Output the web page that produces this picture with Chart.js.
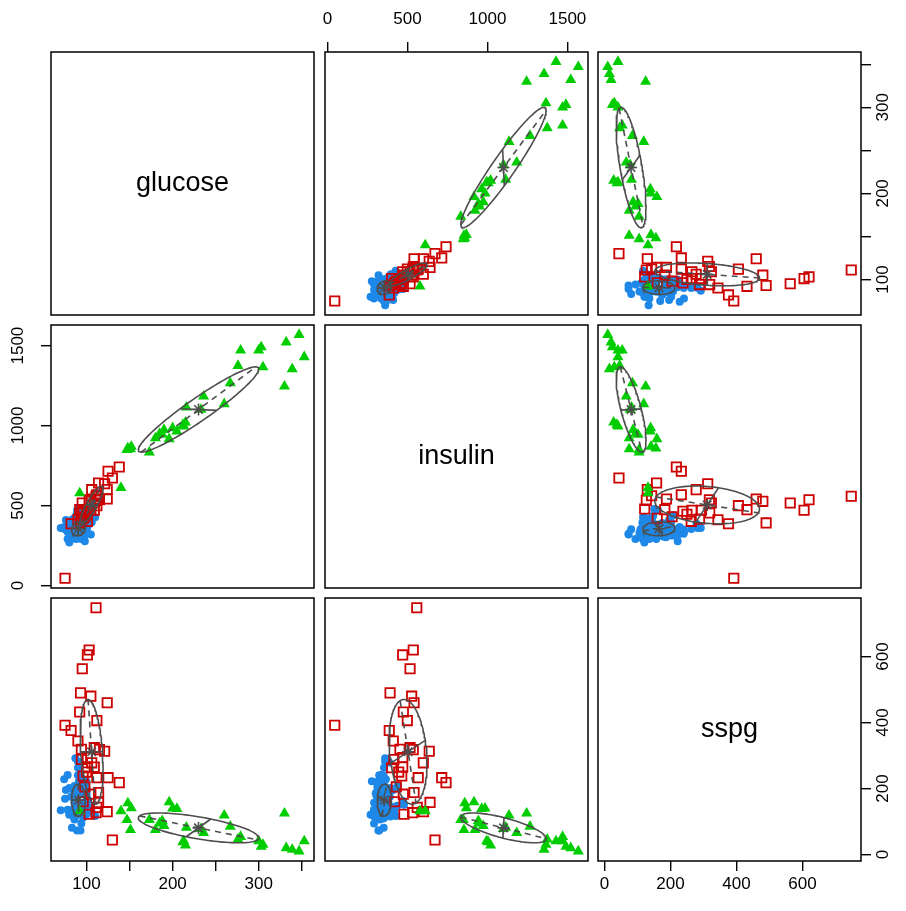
<!DOCTYPE html>
<html>
<head>
<meta charset="utf-8">
<title>diabetes scatterplot matrix</title>
<script src="https://cdn.jsdelivr.net/npm/chart.js@4.4.1/dist/chart.umd.min.js"></script>
<style>
  html, body { margin: 0; padding: 0; background: #fff; overflow: hidden; }
  #page { position: relative; width: 906px; height: 911px; overflow: hidden; }
  #page canvas { position: absolute; }
</style>
</head>
<body>
<div id="page"></div>
<script>
  'use strict'

  const variables = ['glucose', 'insulin', 'sspg']

  // Normal
  const normalGlucose = [80, 97, 105, 90, 90, 86, 100, 85, 97, 97, 91, 87, 78, 90, 86, 80, 90, 99, 85, 90,
    90, 88, 95, 90, 92, 74, 98, 100, 86, 98, 70, 99, 75, 90, 85, 99, 100, 78, 106, 98,
    102, 90, 94, 80, 93, 86, 85, 96, 88, 87, 94, 93, 86, 86, 96, 86, 89, 83, 98, 100,
    110, 88, 100, 80, 89, 91, 96, 95, 82, 84, 90, 100, 86, 93, 76, 92]
  const normalInsulin = [356, 289, 319, 356, 323, 381, 350, 301, 379, 296, 353, 306, 290, 371, 312, 393, 364, 359, 296, 345,
    378, 304, 347, 327, 386, 365, 365, 352, 325, 321, 360, 336, 352, 353, 373, 376, 367, 335, 396, 277,
    378, 360, 291, 269, 318, 328, 334, 356, 291, 360, 313, 306, 319, 349, 332, 323, 323, 351, 478, 398,
    426, 439, 429, 333, 472, 436, 418, 391, 390, 416, 413, 385, 393, 376, 410, 350]
  const normalSspg = [124, 117, 143, 199, 240, 157, 221, 186, 142, 131, 221, 178, 136, 200, 208, 202, 152, 185, 116, 123,
    136, 134, 184, 192, 279, 228, 145, 172, 179, 222, 134, 143, 169, 263, 174, 134, 182, 241, 128, 222,
    165, 282, 94, 121, 73, 106, 118, 112, 157, 292, 200, 220, 144, 109, 151, 158, 73, 81, 151, 122,
    117, 208, 201, 131, 162, 148, 130, 137, 175, 134, 144, 192, 115, 155, 196, 240]

  // Chemical
  const chemicalGlucose = [111, 103, 101, 95, 93, 105, 124, 92, 112, 75, 82, 90, 94, 109, 115, 121, 101, 94,
    106, 101, 109, 96, 112, 125, 138, 105, 114, 114, 112, 103, 111, 124, 130, 98, 96, 100]
  const chemicalInsulin = [558, 536, 470, 516, 391, 526, 541, 474, 499, 45, 386, 411, 453, 516, 536, 636, 470, 415,
    599, 401, 470, 464, 567, 714, 741, 474, 541, 641, 561, 478, 532, 600, 672, 430, 420, 445]
  const chemicalSspg = [748, 620, 605, 563, 490, 480, 460, 432, 406, 392, 376, 344, 319, 324, 318, 313, 294, 288,
    278, 263, 265, 238, 233, 233, 218, 183, 188, 158, 143, 122, 127, 130, 44, 205, 160, 250]

  // Overt
  const overtGlucose = [353, 347, 339, 332, 330, 305, 303, 300, 279, 276, 267, 260, 236, 233, 216, 215,
    213, 205, 196, 190, 188, 180, 173, 152, 148, 151, 147, 140, 92, 185, 200, 212]
  const overtInsulin = [1429, 1568, 1354, 1521, 1245, 1366, 1491, 1470, 1470, 1374, 1266, 1135, 1183, 1100, 1114, 1020,
    995, 964, 916, 974, 943, 922, 833, 868, 858, 853, 849, 611, 578, 950, 985, 1005]
  const overtSspg = [41, 10, 15, 20, 125, 30, 24, 41, 54, 46, 85, 119, 66, 78, 82, 28,
    41, 139, 159, 87, 102, 75, 105, 141, 156, 75, 105, 132, 132, 95, 140, 38]

  // axis ticks
  const glucoseTicks = [100, 150, 200, 250, 300, 350]
  const glucoseTickLabels = ['100', '', '200', '', '300', '']
  const insulinTicks = [0, 500, 1000, 1500]
  const insulinTickLabels = ['0', '500', '1000', '1500']
  const sspgTicks = [0, 200, 400, 600]
  const sspgTickLabels = ['0', '200', '400', '600']

  const axisTicks = {
    glucose: [glucoseTicks, glucoseTickLabels],
    insulin: [insulinTicks, insulinTickLabels],
    sspg: [sspgTicks, sspgTickLabels]
  }

  const groups = [
    { glucose: normalGlucose, insulin: normalInsulin, sspg: normalSspg, style: 'circle', color: '#1E88E8', filled: true, radius: 4, order: 3 },
    { glucose: chemicalGlucose, insulin: chemicalInsulin, sspg: chemicalSspg, style: 'rect', color: '#CD0000', filled: false, radius: 6.6, order: 2 },
    { glucose: overtGlucose, insulin: overtInsulin, sspg: overtSspg, style: 'triangle', color: '#00CD00', filled: true, radius: 6.4, order: 1 }
  ]

  // layout
  const SIZE = 263
  const AXIS = 50
  const EXTRA = 24
  const LEFTS = [51, 325, 598]
  const TOPS = [52, 325, 598]
  const ELLIPSE_C = 1.0
  const GREY = '#4D4D4D'
  const FONT = '"Liberation Sans", Arial, Helvetica, sans-serif'
  const labelPad = { top: 12, bottom: 3, left: 4, right: -2 }

  function range (v) {
    const all = groups.flatMap(g => g[v])
    const lo = Math.min(...all)
    const hi = Math.max(...all)
    const pad = 0.04 * (hi - lo)
    return [lo - pad, hi + pad]
  }

  function mean (a) {
    return a.reduce((s, v) => s + v, 0) / a.length
  }

  function ellipseParts (xs, ys) {
    const n = xs.length
    const mx = mean(xs)
    const my = mean(ys)
    let sxx = 0; let syy = 0; let sxy = 0
    for (let i = 0; i < n; i++) {
      const dx = xs[i] - mx
      const dy = ys[i] - my
      sxx += dx * dx; syy += dy * dy; sxy += dx * dy
    }
    sxx /= n - 1; syy /= n - 1; sxy /= n - 1
    const half = (sxx + syy) / 2
    const d = Math.sqrt(((sxx - syy) / 2) ** 2 + sxy * sxy)
    const l1 = half + d
    const l2 = Math.max(half - d, 0)
    let v1 = Math.abs(sxy) > 1e-12 ? [l1 - syy, sxy] : (sxx >= syy ? [1, 0] : [0, 1])
    const len = Math.hypot(v1[0], v1[1])
    v1 = [v1[0] / len, v1[1] / len]
    const v2 = [-v1[1], v1[0]]
    const a = ELLIPSE_C * Math.sqrt(l1)
    const b = ELLIPSE_C * Math.sqrt(l2)
    const curve = []
    for (let k = 0; k <= 120; k++) {
      const t = 2 * Math.PI * k / 120
      curve.push({
        x: mx + a * Math.cos(t) * v1[0] + b * Math.sin(t) * v2[0],
        y: my + a * Math.cos(t) * v1[1] + b * Math.sin(t) * v2[1]
      })
    }
    return {
      curve,
      major: [{ x: mx - a * v1[0], y: my - a * v1[1] }, { x: mx + a * v1[0], y: my + a * v1[1] }],
      minor: [{ x: mx - b * v2[0], y: my - b * v2[1] }, { x: mx + b * v2[0], y: my + b * v2[1] }],
      center: [{ x: mx, y: my }]
    }
  }

  function makeScale (v, horizontal, position, show) {
    const [lo, hi] = range(v)
    const [ticks, labels] = axisTicks[v]
    return {
      type: 'linear',
      position,
      display: show,
      min: lo,
      max: hi,
      afterBuildTicks: s => { s.ticks = ticks.map(value => ({ value })) },
      afterFit: s => {
        if (!show) return
        if (horizontal) s.height = AXIS
        else s.width = AXIS
        s.paddingLeft = 0; s.paddingRight = 0; s.paddingTop = 0; s.paddingBottom = 0
      },
      grid: { drawOnChartArea: false, drawTicks: true, tickLength: 10, color: '#000', lineWidth: 1.4 },
      border: { display: false },
      ticks: {
        callback: (value, i) => labels[i],
        autoSkip: false,
        color: '#000',
        font: { family: FONT, size: 17 },
        padding: labelPad[position],
        minRotation: horizontal ? 0 : 90,
        maxRotation: horizontal ? 0 : 90,
        crossAlign: horizontal ? 'near' : 'center'
      }
    }
  }

  const panelFrame = {
    id: 'panelFrame',
    afterDatasetsDraw (chart, args, opts) {
      const { ctx, chartArea: a } = chart
      ctx.save()
      ctx.strokeStyle = '#000'
      ctx.lineWidth = 1.5
      ctx.strokeRect(a.left, a.top, a.right - a.left, a.bottom - a.top)
      if (opts.label) {
        ctx.fillStyle = '#000'
        ctx.font = '27px ' + FONT
        ctx.textAlign = 'center'
        ctx.textBaseline = 'middle'
        ctx.fillText(opts.label, (a.left + a.right) / 2, (a.top + a.bottom) / 2)
      }
      ctx.restore()
    }
  }

  const page = document.getElementById('page')

  for (let r = 0; r < 3; r++) {
    for (let c = 0; c < 3; c++) {
      const xv = variables[c]
      const yv = variables[r]
      const topAx = r === 0 && c === 1
      const botAx = r === 2 && (c === 0 || c === 2)
      const leftAx = c === 0 && r === 1
      const rightAx = c === 2 && (r === 0 || r === 2)

      const w = SIZE + (leftAx ? AXIS : 0) + (rightAx ? AXIS : 0) + 2 * EXTRA
      const h = SIZE + (topAx ? AXIS : 0) + (botAx ? AXIS : 0) + 2 * EXTRA
      const canvas = document.createElement('canvas')
      canvas.width = w
      canvas.height = h
      canvas.style.width = w + 'px'
      canvas.style.height = h + 'px'
      canvas.style.left = (LEFTS[c] - (leftAx ? AXIS : 0) - EXTRA) + 'px'
      canvas.style.top = (TOPS[r] - (topAx ? AXIS : 0) - EXTRA) + 'px'
      page.appendChild(canvas)

      const datasets = []
      if (r !== c) {
        groups.forEach(g => {
          datasets.push({
            data: g[xv].map((x, i) => ({ x, y: g[yv][i] })),
            pointStyle: g.style,
            pointRadius: g.radius,
            pointBackgroundColor: g.filled ? g.color : 'rgba(0,0,0,0)',
            pointBorderColor: g.color,
            pointBorderWidth: g.filled ? 0 : 1.8,
            showLine: false,
            order: g.order
          })
        })
        groups.forEach(g => {
          const e = ellipseParts(g[xv], g[yv])
          const line = { showLine: true, pointRadius: 0, borderColor: GREY, borderWidth: 1.6, fill: false, order: 0 }
          datasets.push(Object.assign({ data: e.curve }, line))
          datasets.push(Object.assign({ data: e.major, borderDash: [6, 5] }, line))
          datasets.push(Object.assign({ data: e.minor }, line))
          datasets.push({
            data: e.center,
            pointStyle: 'star',
            pointRadius: 6,
            pointBorderColor: GREY,
            pointBorderWidth: 1.6,
            showLine: false,
            order: 0
          })
        })
      }

      // eslint-disable-next-line no-new
      new Chart(canvas, {
        type: 'scatter',
        data: { datasets },
        options: {
          responsive: false,
          animation: false,
          events: [],
          layout: { padding: EXTRA, autoPadding: false },
          plugins: {
            legend: { display: false },
            tooltip: { enabled: false },
            panelFrame: { label: r === c ? variables[r] : '' }
          },
          scales: {
            x: makeScale(xv, true, topAx ? 'top' : 'bottom', topAx || botAx),
            y: makeScale(yv, false, leftAx ? 'left' : 'right', leftAx || rightAx)
          }
        },
        plugins: [panelFrame]
      })
    }
  }
</script>
</body>
</html>
